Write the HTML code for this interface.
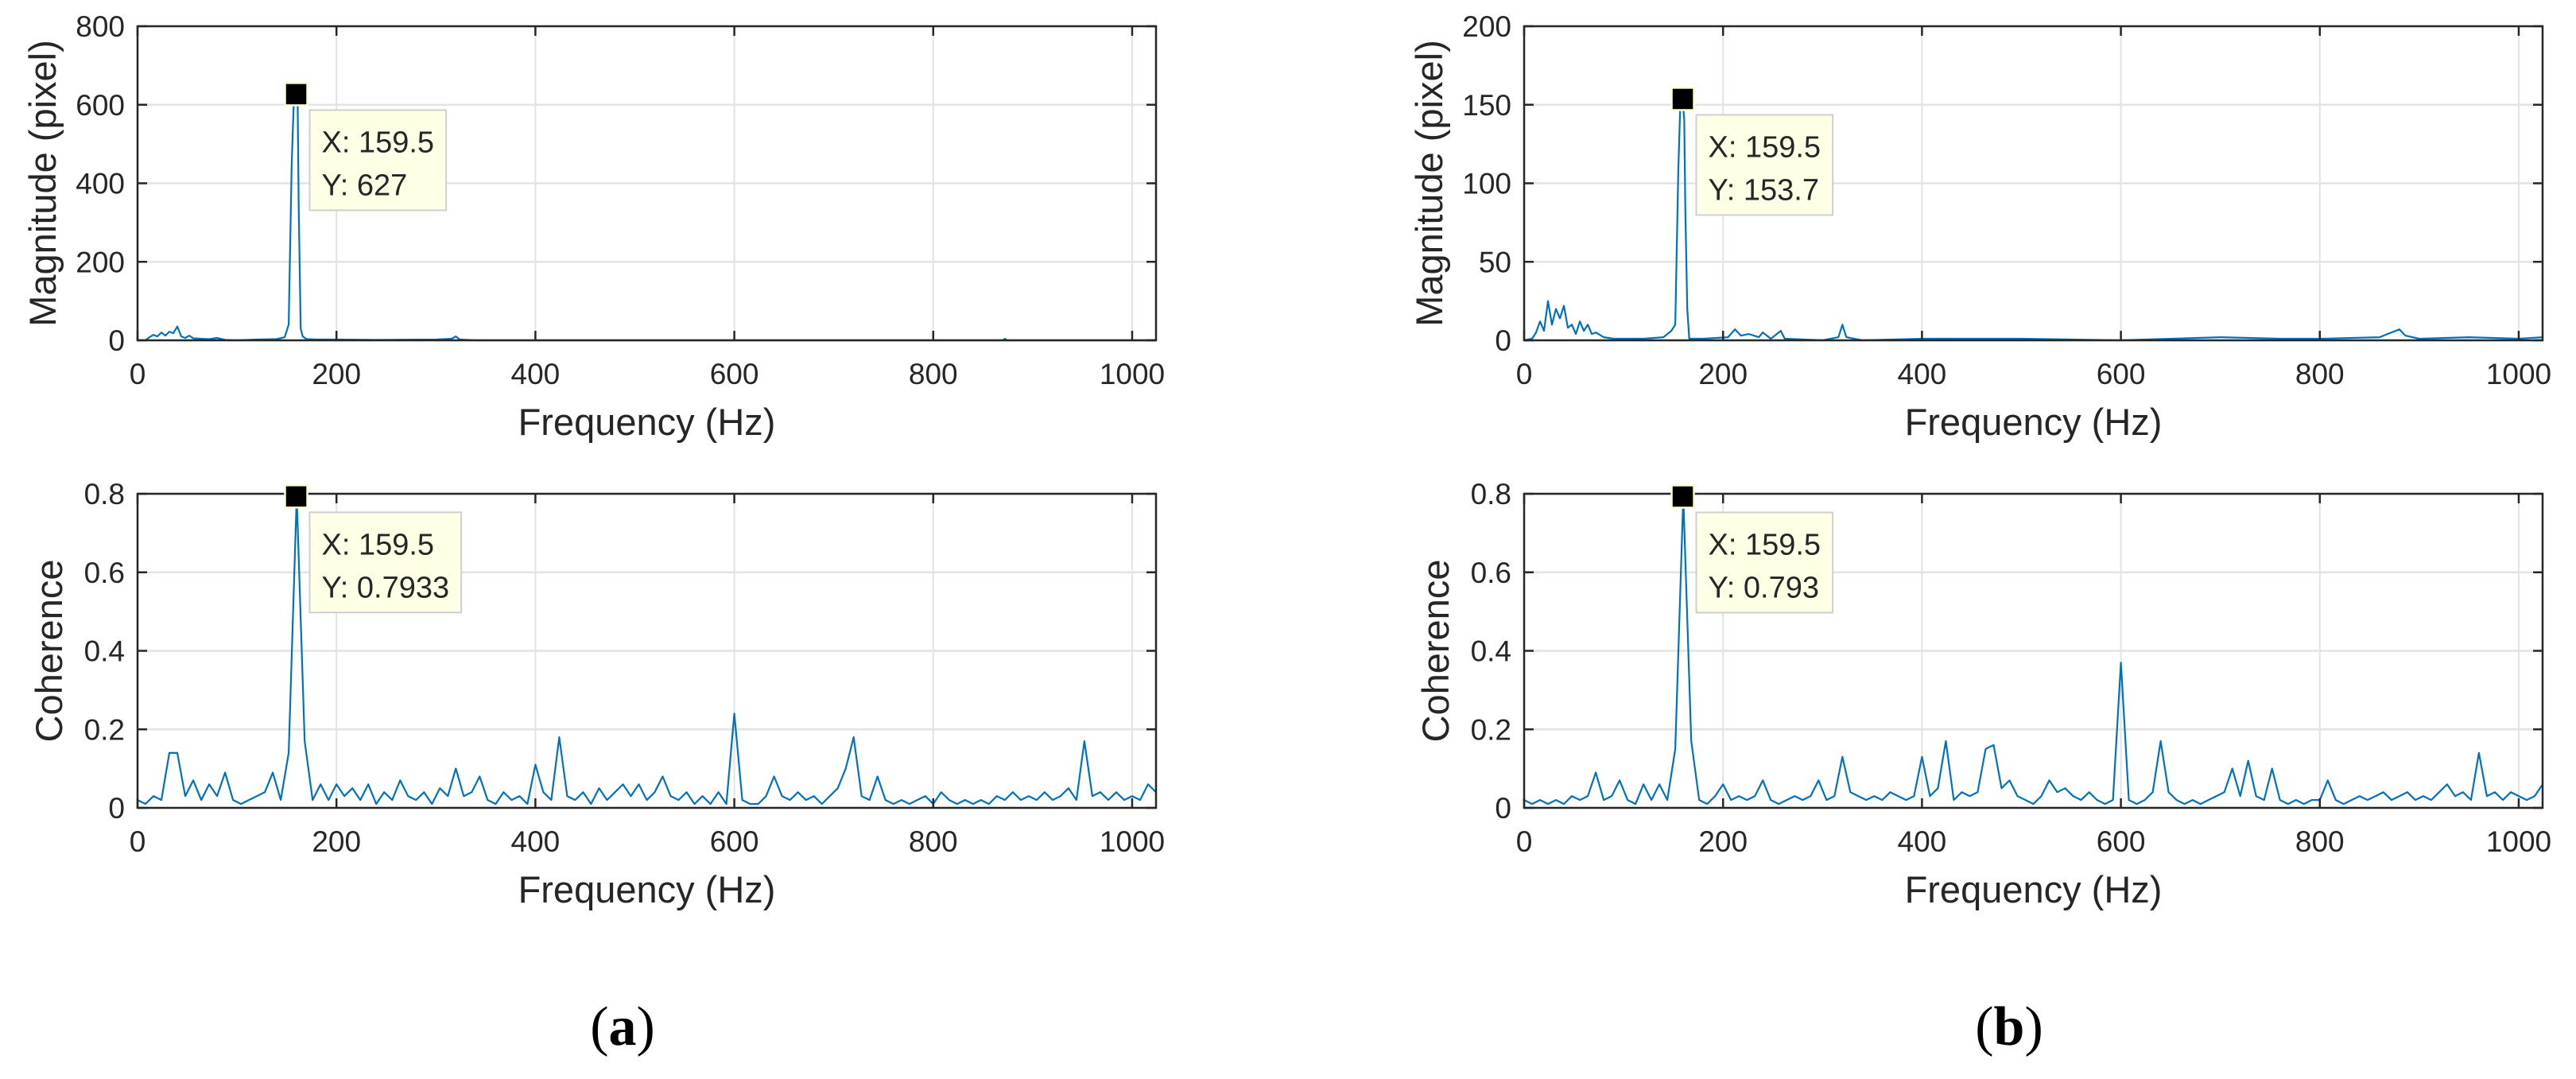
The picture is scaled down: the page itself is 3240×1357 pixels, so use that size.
<!DOCTYPE html>
<html><head><meta charset="utf-8"><style>
html,body{margin:0;padding:0;background:#fff;}
svg{display:block;}
text{font-family:"Liberation Sans",Arial,sans-serif;fill:#262626;}
</style></head><body>
<svg id="fig" width="3240" height="1357" viewBox="0 0 3240 1357" xmlns="http://www.w3.org/2000/svg">
<rect width="3240" height="1357" fill="#fff"/>
<text x="783" y="1314" text-anchor="middle" style="font-family:'Liberation Serif',serif;font-size:70px;fill:#000">(<tspan font-weight="bold">a</tspan>)</text>
<text x="2527" y="1314" text-anchor="middle" style="font-family:'Liberation Serif',serif;font-size:70px;fill:#000">(<tspan font-weight="bold">b</tspan>)</text>
</svg>
<script>
const xTicks = [0,200,400,600,800,1000];
const magTicksA = [0,200,400,600,800];
const magTicksB = [0,50,100,150,200];
const cohTicks = [0,0.2,0.4,0.6,0.8];
const cohTickLabels = ["0","0.2","0.4","0.6","0.8"];

const magFreqA = [0,8,12,16,20,24,28,32,36,40,44,48,52,56,64,72,80,88,100,120,140,148,152,155,157,159.5,161,162,164,166,170,180,200,240,300,316,320,324,340,600,870,872,874,900,1024];
const magValA  = [0,0,8,14,10,20,12,22,18,35,10,6,12,5,4,3,6,1,0,2,3,8,40,450,600,627,600,340,30,10,3,2,2,1,2,4,10,2,0,0,0,4,0,0,0];

const magFreqB = [0,8,12,16,20,24,28,32,36,40,44,48,52,56,60,64,68,72,80,90,100,120,140,148,152,155,157,159.5,161,162,164,166,180,205,212,218,226,236,240,248,258,262,300,316,320,324,340,400,500,600,700,760,800,860,880,886,900,950,1000,1024];
const magValB  = [0,1,5,12,6,25,10,20,14,22,8,10,4,12,6,10,4,5,2,1,1,1,2,6,10,108,150,153.7,140,85,20,1,1,2,7,3,4,2,5,1,6,1,0,2,10,2,0,1,1,0,2,1,1,2,7,3,1,2,1,2];

const cohStep = 8;
const cohValA = [.02,.01,.03,.02,.14,.14,.03,.07,.02,.06,.03,.09,.02,.01,.02,.03,.04,.09,.02,.14,.7933,.17,.02,.06,.02,.06,.03,.05,.02,.06,.01,.04,.02,.07,.03,.02,.04,.01,.05,.03,.10,.03,.04,.08,.02,.01,.04,.02,.03,.01,.11,.04,.02,.18,.03,.02,.04,.01,.05,.02,.04,.06,.03,.06,.02,.04,.08,.03,.02,.04,.01,.03,.01,.04,.01,.24,.02,.01,.01,.03,.08,.03,.02,.04,.02,.03,.01,.03,.05,.10,.18,.03,.02,.08,.02,.01,.02,.01,.02,.03,.01,.04,.02,.01,.02,.01,.02,.01,.03,.02,.04,.02,.03,.02,.04,.02,.03,.05,.02,.17,.03,.04,.02,.04,.02,.03,.02,.06,.04];
const cohValB = [.02,.01,.02,.01,.02,.01,.03,.02,.03,.09,.02,.03,.07,.02,.01,.06,.02,.06,.02,.15,.793,.17,.02,.01,.03,.06,.02,.03,.02,.03,.07,.02,.01,.02,.03,.02,.03,.07,.02,.03,.13,.04,.03,.02,.03,.02,.04,.03,.02,.03,.13,.03,.05,.17,.02,.04,.03,.04,.15,.16,.05,.07,.03,.02,.01,.03,.07,.04,.05,.03,.02,.04,.02,.01,.02,.37,.02,.01,.02,.04,.17,.04,.02,.01,.02,.01,.02,.03,.04,.10,.03,.12,.03,.02,.10,.02,.01,.02,.01,.02,.02,.07,.02,.01,.02,.03,.02,.03,.04,.02,.03,.04,.02,.03,.02,.04,.06,.03,.04,.02,.14,.03,.04,.02,.04,.03,.02,.03,.06];

const tipX = 159.5;
const tipYA = 627, tipYB = 153.7, tipCA = 0.7933, tipCB = 0.793;
const tipLabelYA = "627", tipLabelYB = "153.7", tipLabelCA = "0.7933", tipLabelCB = "0.793";

const NS = "http://www.w3.org/2000/svg";
const svg = document.getElementById('fig');
function mk(tag, attrs, parent){
  const e = document.createElementNS(NS, tag);
  for (const k in attrs) e.setAttribute(k, attrs[k]);
  (parent||svg).appendChild(e);
  return e;
}

function panel(id, x0, x1, y0, y1, ymax, yt, ytl, ylabel, ylabX, freqs, vals, tipY, tipLabel){
  const sx = f => x0 + f/1024*(x1-x0);
  const sy = v => y1 - v/ymax*(y1-y0);
  const g = mk('g', {});
  
  
  // grid
  xTicks.forEach(t => {
    const l = mk('line', {x1:sx(t), x2:sx(t), y1:y0, y2:y1, stroke:'#e3e3e3', 'stroke-width':2}, g);
    
    
  });
  yt.forEach(t => {
    const l = mk('line', {x1:x0, x2:x1, y1:sy(t), y2:sy(t), stroke:'#e3e3e3', 'stroke-width':2.5}, g);
    
    
  });
  // series
  let d = '';
  for (let i = 0; i < vals.length; i++){
    const f = freqs ? freqs[i] : i*cohStep;
    d += (i ? 'L' : 'M') + sx(f).toFixed(1) + ' ' + sy(vals[i]).toFixed(1);
  }
  const p = mk('path', {d:d, fill:'none', stroke:'#0072BD', 'stroke-width':2.2, 'stroke-linejoin':'round'}, g);
  
  
  // box
  const box = mk('rect', {x:x0, y:y0, width:x1-x0, height:y1-y0, fill:'none', stroke:'#262626', 'stroke-width':2.5}, g);
  
  
  // ticks
  xTicks.forEach(t => {
    mk('line', {x1:sx(t), x2:sx(t), y1:y1, y2:y1-12, stroke:'#262626', 'stroke-width':2.5}, g);
    mk('line', {x1:sx(t), x2:sx(t), y1:y0, y2:y0+12, stroke:'#262626', 'stroke-width':2.5}, g);
    const tx = mk('text', {x:sx(t), y:y1+55, 'text-anchor':'middle', 'font-size':37}, g);
    tx.textContent = String(t);
    
    
  });
  yt.forEach((t, i) => {
    mk('line', {x1:x0, x2:x0+12, y1:sy(t), y2:sy(t), stroke:'#262626', 'stroke-width':2.5}, g);
    mk('line', {x1:x1, x2:x1-12, y1:sy(t), y2:sy(t), stroke:'#262626', 'stroke-width':2.5}, g);
    const tx = mk('text', {x:x0-16, y:sy(t)+13, 'text-anchor':'end', 'font-size':37}, g);
    tx.textContent = ytl[i];
    
    
  });
  const xl = mk('text', {x:(x0+x1)/2, y:y1+119, 'text-anchor':'middle', 'font-size':47}, g);
  xl.textContent = 'Frequency (Hz)';
  
  
  const yc = (y0+y1)/2;
  const yl = mk('text', {x:ylabX, y:yc, 'text-anchor':'middle', 'font-size':47, transform:'rotate(-90 '+ylabX+' '+yc+')', dy:16}, g);
  yl.textContent = ylabel;
  
  
  // datatip
  const mx = sx(tipX), my = sy(tipY);
  const mkr = mk('rect', {x:mx-14, y:my-14, width:28, height:28, fill:'#000', stroke:'#fffbd0', 'stroke-width':2.5}, g);
  
  
  const tg = mk('g', {}, g);
  
  
  const bx = mx+17, by = my+20;
  const br = mk('rect', {x:bx, y:by, width:170, height:126, fill:'#ffffe6', stroke:'#cfcfcf', 'stroke-width':2}, tg);
  const t1 = mk('text', {x:bx+15, y:by+53, 'font-size':38, fill:'#000'}, tg);
  t1.textContent = 'X: ' + tipX;
  const t2 = mk('text', {x:bx+15, y:by+107, 'font-size':38, fill:'#000'}, tg);
  t2.textContent = 'Y: ' + tipLabel;
  const w = Math.max(t1.getComputedTextLength(), t2.getComputedTextLength());
  br.setAttribute('width', (w + 30).toFixed(1));
}

panel('magnitude-a', 173, 1454, 33, 428, 800, magTicksA, magTicksA.map(String), 'Magnitude (pixel)', 54, magFreqA, magValA, tipYA, tipLabelYA);
panel('coherence-a', 173, 1454, 621, 1016, 0.8, cohTicks, cohTickLabels, 'Coherence', 62, null, cohValA, tipCA, tipLabelCA);
panel('magnitude-b', 1917, 3198, 33, 428, 200, magTicksB, magTicksB.map(String), 'Magnitude (pixel)', 1798, magFreqB, magValB, tipYB, tipLabelYB);
panel('coherence-b', 1917, 3198, 621, 1016, 0.8, cohTicks, cohTickLabels, 'Coherence', 1806, null, cohValB, tipCB, tipLabelCB);
</script>
</body></html>
